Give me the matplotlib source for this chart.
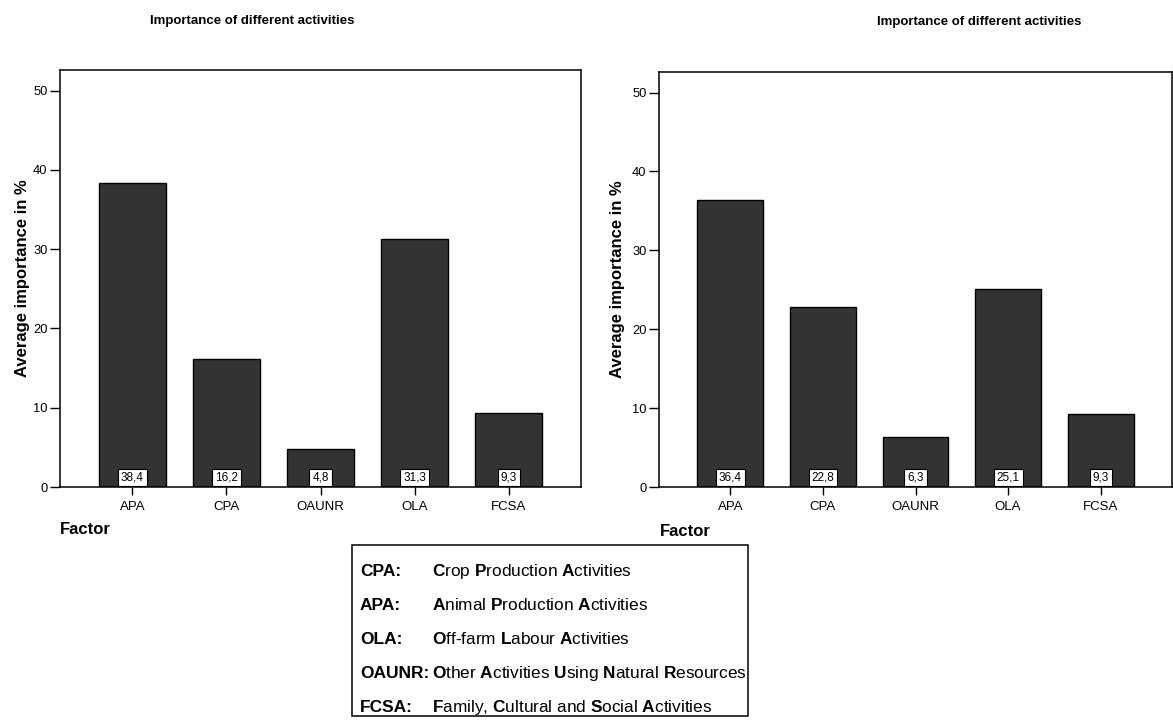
import matplotlib
matplotlib.use("Agg")
import matplotlib.pyplot as plt
from matplotlib.patches import Rectangle

plt.rcParams['font.family'] = ['Liberation Sans', 'DejaVu Sans']
plt.rcParams['mathtext.fontset'] = 'custom'
plt.rcParams['mathtext.rm'] = 'Liberation Sans'
plt.rcParams['mathtext.bf'] = 'Liberation Sans:bold'

# dane
factors = ['APA', 'CPA', 'OAUNR', 'OLA', 'FCSA']
left_values = [38.4, 16.2, 4.8, 31.3, 9.3]
right_values = [36.4, 22.8, 6.3, 25.1, 9.3]
y_ticks = [0, 10, 20, 30, 40, 50]
title = 'Importance of different activities'
legend_abbr = ['CPA:', 'APA:', 'OLA:', 'OAUNR:', 'FCSA:']
legend_desc = [r'$\mathbf{C}$rop $\mathbf{P}$roduction $\mathbf{A}$ctivities',
               r'$\mathbf{A}$nimal $\mathbf{P}$roduction $\mathbf{A}$ctivities',
               r'$\mathbf{O}$ff-farm $\mathbf{L}$abour $\mathbf{A}$ctivities',
               r'$\mathbf{O}$ther $\mathbf{A}$ctivities $\mathbf{U}$sing $\mathbf{N}$atural $\mathbf{R}$esources',
               r'$\mathbf{F}$amily, $\mathbf{C}$ultural and $\mathbf{S}$ocial $\mathbf{A}$ctivities']

W, H = 1173, 722
fig = plt.figure(figsize=(W / 100, H / 100), dpi=100)


def px_axes(x0, y0, x1, y1):
    return fig.add_axes([x0 / W, 1 - y1 / H, (x1 - x0) / W, (y1 - y0) / H])


def draw_panel(ax, values):
    pos = range(len(factors))
    ax.bar(pos, values, width=0.71, color='#333333', edgecolor='black', linewidth=1.0)
    for i, v in enumerate(values):
        ax.annotate(f'{v:.1f}'.replace('.', ','), xy=(i, 0), xytext=(0, 2.5),
                    textcoords='offset points', ha='center', va='bottom', fontsize=8.5,
                    bbox=dict(boxstyle='square,pad=0.25', fc='white', ec='black', lw=0.8))
    ax.set_xlim(-0.77, 4.77)
    ax.set_ylim(0, 52.6)
    ax.set_xticks(list(pos))
    ax.set_xticklabels(factors, fontsize=9.5)
    ax.set_yticks(y_ticks)
    ax.set_yticklabels([str(t) for t in y_ticks], fontsize=9.3)
    ax.tick_params(axis='x', direction='out', length=6, width=1, pad=4)
    ax.tick_params(axis='y', direction='out', length=7, width=1, pad=2)
    for s in ax.spines.values():
        s.set_linewidth(1.1)
    ax.set_ylabel('Average importance in %', fontsize=12, fontweight='bold')


ax1 = px_axes(60, 70, 581, 487)
draw_panel(ax1, left_values)
ax1.yaxis.set_label_coords(-30 / 521, 0.50)

ax2 = px_axes(659, 72, 1172, 487)
draw_panel(ax2, right_values)
ax2.yaxis.set_label_coords(-34 / 513, 0.50)

fig.text(150 / W, 1 - 21 / H, title, fontsize=9.5, fontweight='bold', ha='left', va='center')
fig.text(877 / W, 1 - 22 / H, title, fontsize=9.5, fontweight='bold', ha='left', va='center')
fig.text(60 / W, 1 - 530 / H, 'Factor', fontsize=12, fontweight='bold', ha='left', va='center')
fig.text(660 / W, 1 - 531 / H, 'Factor', fontsize=12, fontweight='bold', ha='left', va='center')

# ramka z objaśnieniami
fig.patches.append(Rectangle((352 / W, 1 - 716 / H), (748 - 352) / W, (716 - 545) / H,
                             transform=fig.transFigure, fill=False, ec='black', lw=1.1))
for k, (a, d) in enumerate(zip(legend_abbr, legend_desc)):
    y = 1 - (576 + 34 * k) / H
    fig.text(360 / W, y, a, fontsize=12.5, fontweight='bold', ha='left', va='baseline')
    fig.text(432 / W, y, d, fontsize=12.4, ha='left', va='baseline')

fig.savefig('out.png', dpi=100)
